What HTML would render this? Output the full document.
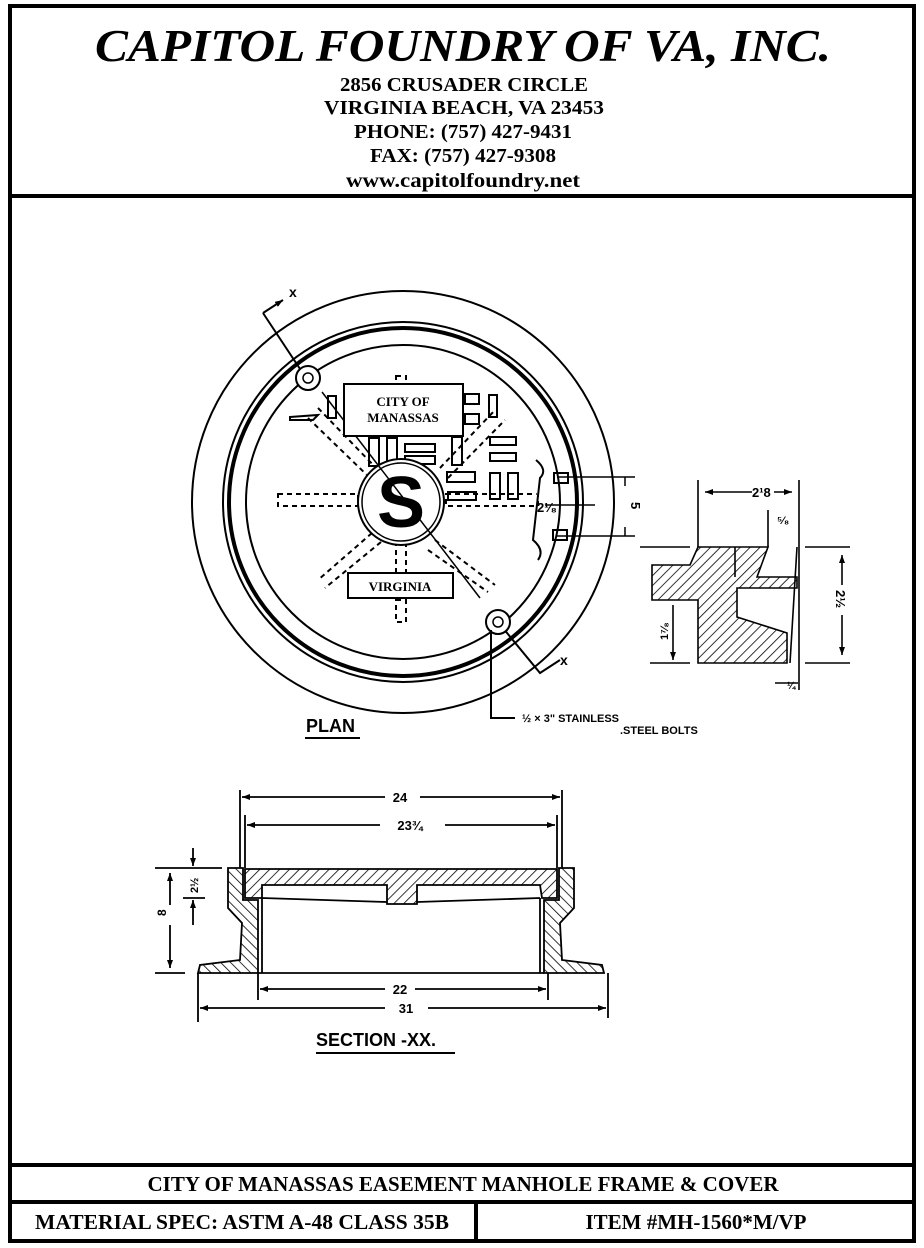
<!DOCTYPE html>
<html><head><meta charset="utf-8"><style>
html,body{margin:0;padding:0;background:#fff;}
svg{display:block;}
.t{font-family:"Liberation Serif",serif;font-weight:bold;fill:#000;}
.d{font-family:"Liberation Sans",sans-serif;font-weight:bold;fill:#000;}
</style></head><body>
<svg width="924" height="1248" viewBox="0 0 924 1248" xmlns="http://www.w3.org/2000/svg">
<defs>
<pattern id="h" width="7" height="7" patternUnits="userSpaceOnUse" patternTransform="rotate(45)">
<rect width="7" height="7" fill="#fff"/><line x1="0" y1="0" x2="0" y2="7" stroke="#000" stroke-width="1.6"/></pattern>
<pattern id="h2" width="7" height="7" patternUnits="userSpaceOnUse" patternTransform="rotate(-45)">
<rect width="7" height="7" fill="#fff"/><line x1="0" y1="0" x2="0" y2="7" stroke="#000" stroke-width="1.6"/></pattern>
<marker id="a" markerWidth="8" markerHeight="6" refX="8" refY="3" orient="auto-start-reverse" markerUnits="userSpaceOnUse"><path d="M0,0 L8,3 L0,6 Z" fill="#000"/></marker>
</defs>
<rect x="10" y="6" width="904" height="1235" fill="none" stroke="#000" stroke-width="4"/>
<line x1="10" y1="196" x2="914" y2="196" stroke="#000" stroke-width="4"/>
<line x1="10" y1="1165" x2="914" y2="1165" stroke="#000" stroke-width="4"/>
<line x1="10" y1="1202" x2="914" y2="1202" stroke="#000" stroke-width="4"/>
<line x1="476" y1="1202" x2="476" y2="1241" stroke="#000" stroke-width="4"/>
<text class="t" x="463" y="61" font-size="46" font-style="italic" text-anchor="middle" textLength="736" lengthAdjust="spacingAndGlyphs">CAPITOL FOUNDRY OF VA, INC.</text>
<text class="t" x="464" y="91" font-size="20" text-anchor="middle" textLength="248" lengthAdjust="spacingAndGlyphs">2856 CRUSADER CIRCLE</text>
<text class="t" x="464" y="114" font-size="20" text-anchor="middle" textLength="280" lengthAdjust="spacingAndGlyphs">VIRGINIA BEACH, VA 23453</text>
<text class="t" x="463" y="138" font-size="20" text-anchor="middle" textLength="218" lengthAdjust="spacingAndGlyphs">PHONE: (757) 427-9431</text>
<text class="t" x="463" y="162" font-size="20" text-anchor="middle" textLength="186" lengthAdjust="spacingAndGlyphs">FAX: (757) 427-9308</text>
<text class="t" x="463" y="187" font-size="20" text-anchor="middle" textLength="234" lengthAdjust="spacingAndGlyphs">www.capitolfoundry.net</text>
<text class="t" x="463" y="1191" font-size="21" text-anchor="middle" textLength="631" lengthAdjust="spacingAndGlyphs">CITY OF MANASSAS EASEMENT MANHOLE FRAME &amp; COVER</text>
<text class="t" x="242" y="1229" font-size="21" text-anchor="middle" textLength="414" lengthAdjust="spacingAndGlyphs">MATERIAL SPEC:  ASTM A-48 CLASS 35B</text>
<text class="t" x="696" y="1229" font-size="21" text-anchor="middle" textLength="221" lengthAdjust="spacingAndGlyphs">ITEM #MH-1560*M/VP</text>

<g fill="none" stroke="#000">
<circle cx="403" cy="502" r="211" stroke-width="2"/>
<circle cx="403" cy="502" r="180" stroke-width="2"/>
<circle cx="403" cy="502" r="174" stroke-width="4"/>
<circle cx="403" cy="502" r="157" stroke-width="2"/>
<g stroke-dasharray="5,4" stroke-width="2">
<rect x="278" y="494" width="80" height="12"/>
<rect x="446" y="494" width="92" height="12"/>
<rect x="396" y="543" width="10" height="32"/>
<rect x="396" y="600" width="10" height="22"/>
<rect x="396" y="376" width="10" height="10"/>
<path d="M372,533 L318,580 M381,542 L325,588"/>
<path d="M435,540 L495,585 M428,550 L488,592"/>
<path d="M308,418 L370,478 M318,408 L378,470"/>
<path d="M440,468 L495,410 M448,478 L505,420"/>
</g>
<g stroke-width="2">
<rect x="328" y="396" width="8" height="22"/>
<rect x="465" y="394" width="14" height="10"/>
<rect x="465" y="414" width="14" height="10"/>
<rect x="489" y="395" width="8" height="22"/>
<path d="M290,417 L318,415 L313,420 L290,420Z"/>
<rect x="369" y="438" width="10" height="28"/>
<rect x="387" y="438" width="10" height="28"/>
<rect x="405" y="444" width="30" height="8"/>
<rect x="405" y="456" width="30" height="8"/>
<rect x="452" y="437" width="10" height="28"/>
<rect x="490" y="437" width="26" height="8"/>
<rect x="490" y="453" width="26" height="8"/>
<rect x="447" y="472" width="28" height="10"/>
<rect x="490" y="473" width="10" height="26"/>
<rect x="508" y="473" width="10" height="26"/>
<rect x="448" y="492" width="28" height="8"/>
<rect x="554" y="473" width="14" height="10"/>
<rect x="553" y="530" width="14" height="10"/>
</g>
<path d="M536,460 Q548,470 540,478 L533,540 Q545,550 538,560" stroke-width="2" fill="#fff"/>
<circle cx="401" cy="502" r="43" stroke-width="2" fill="#fff"/>
<circle cx="401" cy="502" r="39" stroke-width="1.5"/>
<path d="M263,313 L306,378 M498,622 L540,673 L560,660" stroke-width="2"/>
<path d="M263,313 L283,300" stroke-width="2" marker-end="url(#a)"/>
<path d="M322,392 L480,598" stroke-width="1.5"/>
<circle cx="308" cy="378" r="12" stroke-width="2" fill="#fff"/>
<circle cx="308" cy="378" r="5" stroke-width="1.5"/>
<circle cx="498" cy="622" r="12" stroke-width="2" fill="#fff"/>
<circle cx="498" cy="622" r="5" stroke-width="1.5"/>
<rect x="344" y="384" width="119" height="52" stroke-width="2" fill="#fff"/>
<rect x="348" y="573" width="105" height="25" stroke-width="2" fill="#fff"/>
<path d="M557,477 L635,477 M557,536 L635,536 M545,505 L595,505" stroke-width="1.5"/>
<path d="M625,486 L625,477 M625,527 L625,536" stroke-width="1.5"/>
<path d="M491,630 L491,718 L515,718" stroke-width="2"/>
<path d="M305,738 L360,738 M316,1053 L455,1053" stroke-width="2"/>
</g>
<text class="t" x="403" y="406" font-size="13" text-anchor="middle" font-weight="normal">CITY OF</text>
<text class="t" x="403" y="422" font-size="13" text-anchor="middle" font-weight="normal">MANASSAS</text>
<text class="t" x="400" y="591" font-size="13" text-anchor="middle">VIRGINIA</text>
<text class="t" x="401" y="527" font-size="72" text-anchor="middle" style="font-family:'Liberation Sans',sans-serif">S</text>
<text class="d" x="289" y="297" font-size="14">x</text>
<text class="d" x="560" y="665" font-size="14">x</text>
<text class="d" x="537" y="512" font-size="13">2¹⁄₈</text>
<text class="d" x="631" y="502" font-size="13" transform="rotate(90 631 502)">5</text>
<text class="d" x="522" y="722" font-size="11">½ × 3" STAINLESS</text>
<text class="d" x="620" y="734" font-size="11">.STEEL BOLTS</text>
<text class="d" x="306" y="732" font-size="18">PLAN</text>

<g stroke="#000" stroke-width="1.6">
<path d="M698,547 L768,547 L757,577 L797,577 L797,588 L737,588 L737,617 L787,633 L787,663 L698,663 L698,600 L652,600 L652,565 L690,565 Z" fill="url(#h)"/>
<path d="M735,547 L735,577" fill="none"/>
<path d="M797,547 L790,663" fill="none"/>
<path d="M698,480 L698,547 M799,480 L799,690 M768,510 L768,547 M805,547 L850,547 M805,663 L850,663 M640,547 L690,547 M650,663 L690,663" fill="none"/>
<path d="M705,492 L792,492" fill="none" marker-start="url(#a)" marker-end="url(#a)"/>
<path d="M842,555 L842,655" fill="none" marker-start="url(#a)" marker-end="url(#a)"/>
<path d="M673,605 L673,660" fill="none" marker-end="url(#a)"/>
<path d="M775,683 L798,683" fill="none"/>
</g>
<rect x="752" y="484" width="22" height="14" fill="#fff"/>
<text class="d" x="752" y="497" font-size="13">2¹8</text>
<text class="d" x="777" y="524" font-size="11">⁵⁄₈</text>
<rect x="835" y="585" width="14" height="30" fill="#fff"/>
<text class="d" x="836" y="590" font-size="13" transform="rotate(90 836 590)">2½</text>
<text class="d" x="668" y="640" font-size="11" transform="rotate(-90 668 640)">1⁷⁄₈</text>
<text class="d" x="787" y="689" font-size="10">¼</text>

<g stroke="#000" stroke-width="1.8">
<path d="M228,868 L243,868 L243,900 L258,900 L258,973 L198,973 L200,965 L240,960 L242,923 L228,908 Z" fill="url(#h2)"/>
<path d="M574,868 L559,868 L559,900 L544,900 L544,973 L604,973 L602,965 L562,960 L560,923 L574,908 Z" fill="url(#h2)"/>
<path d="M245,869 L557,869 L557,898 L542,898 L540,885 L417,885 L417,904 L387,904 L387,885 L262,885 L262,898 L245,898 Z" fill="url(#h)"/>
<path d="M262,898 L262,973 M540,898 L540,973 M258,973 L544,973 M262,898 L387,902 M417,902 L540,898" fill="none"/>
<path d="M240,790 L240,868 M562,790 L562,868 M245,815 L245,868 M557,815 L557,868 M258,973 L258,1000 M548,973 L548,1000 M198,973 L198,1022 M608,973 L608,1018" fill="none"/>
<path d="M155,868 L222,868 M155,973 L185,973 M183,898 L205,898" fill="none"/>
<g fill="none">
<path d="M242,797 L385,797" marker-start="url(#a)"/>
<path d="M420,797 L560,797" marker-end="url(#a)"/>
<path d="M247,825 L380,825" marker-start="url(#a)"/>
<path d="M445,825 L555,825" marker-end="url(#a)"/>
<path d="M260,989 L385,989" marker-start="url(#a)"/>
<path d="M415,989 L546,989" marker-end="url(#a)"/>
<path d="M200,1008 L385,1008" marker-start="url(#a)"/>
<path d="M428,1008 L606,1008" marker-end="url(#a)"/>
<path d="M170,873 L170,905" marker-start="url(#a)"/>
<path d="M170,925 L170,968" marker-end="url(#a)"/>
<path d="M193,848 L193,866" marker-end="url(#a)"/>
<path d="M193,925 L193,900" marker-end="url(#a)"/>
</g>
</g>
<text class="d" x="400" y="802" font-size="13" text-anchor="middle">24</text>
<text class="d" x="410" y="830" font-size="13" text-anchor="middle">23¾</text>
<text class="d" x="400" y="994" font-size="13" text-anchor="middle">22</text>
<text class="d" x="406" y="1013" font-size="13" text-anchor="middle">31</text>
<text class="d" x="166" y="916" font-size="12" transform="rotate(-90 166 916)">8</text>
<text class="d" x="198" y="893" font-size="11" transform="rotate(-90 198 893)">2½</text>
<text class="d" x="316" y="1046" font-size="18">SECTION -XX.</text>
</svg>
</body></html>
